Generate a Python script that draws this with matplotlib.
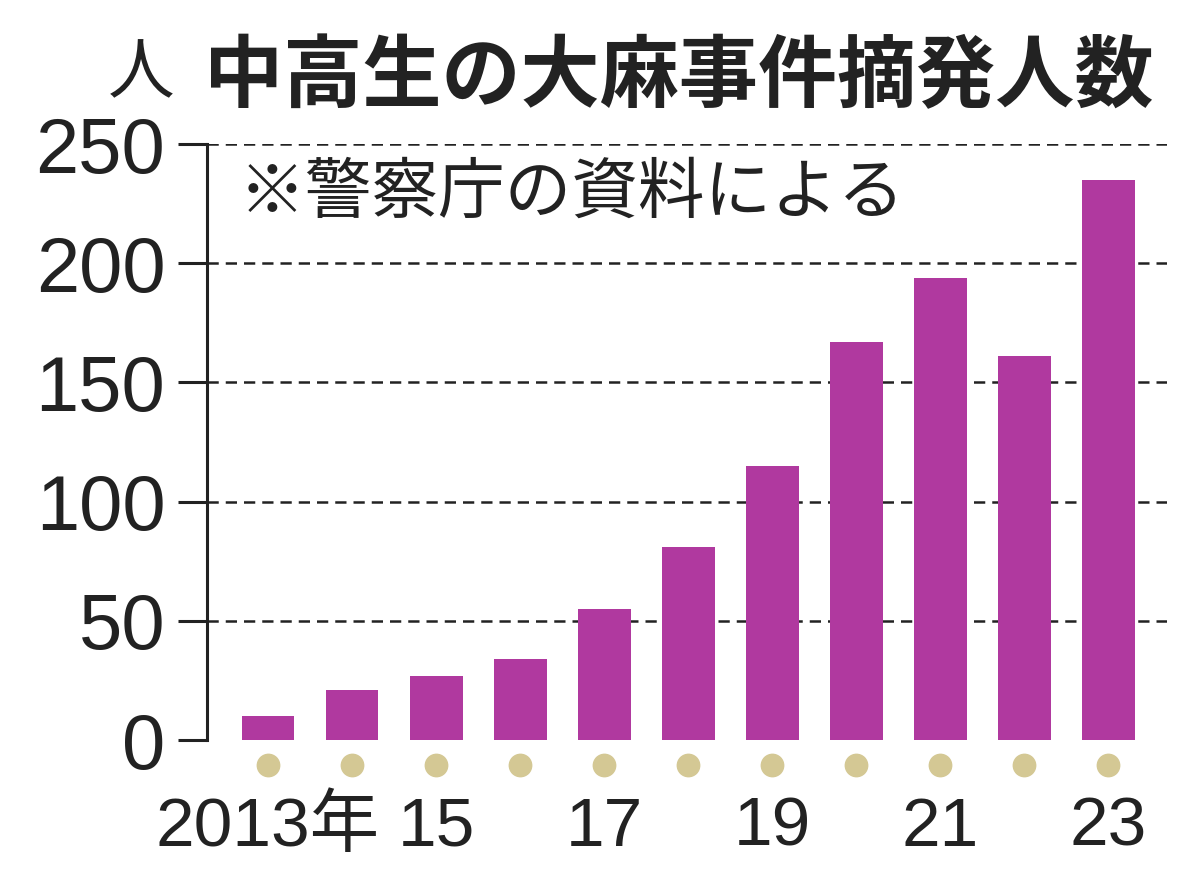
import matplotlib.pyplot as plt
import matplotlib.transforms as mtransforms
import numpy as np

plt.rcParams['font.family'] = ['Noto Sans CJK JP', 'DejaVu Sans']

years = [2013, 2014, 2015, 2016, 2017, 2018, 2019, 2020, 2021, 2022, 2023]
counts = [10, 21, 27, 34, 55, 81, 115, 167, 194, 161, 235]
xlabels = ['2013年', '', '15', '', '17', '', '19', '', '21', '', '23']
yticks = [0, 50, 100, 150, 200, 250]

fig = plt.figure(figsize=(12, 8.9), dpi=100)
ax = fig.add_axes([0.1725, 0.1685, 0.8, 0.6697])

x = np.arange(len(years))
ax.bar(x, counts, width=0.63, color='#b0399f', zorder=3)

ax.set_xlim(-0.726, 10.70)
ax.set_ylim(0, 250)

# dashed guide lines
for v in yticks[1:]:
    ax.axhline(v, color='#222222', lw=1.8, ls=(0, (4.5, 2.8)), zorder=1)

for s in ['top', 'right', 'bottom']:
    ax.spines[s].set_visible(False)
ax.spines['left'].set_linewidth(2.2)
ax.spines['left'].set_color('#222222')

ax.set_yticks(yticks)
ax.set_yticklabels([str(v) for v in yticks], family='Liberation Sans', fontsize=56, color='#222222')
ax.tick_params(axis='y', length=21, width=2.2, color='#222222', pad=9)

ax.set_xticks(x)
ax.set_xticklabels(xlabels, fontsize=50, color='#222222',
                   family=['Liberation Sans', 'Noto Sans CJK JP'], stretch='condensed')
ax.tick_params(axis='x', length=0, pad=40)

# year markers under each bar
trans = mtransforms.blended_transform_factory(ax.transData, ax.transAxes)
ax.scatter(x, [-0.042] * len(x), s=260, color='#d4c894', transform=trans, clip_on=False, zorder=4)

fig.text(0.118, 0.916, '人', fontsize=48, ha='center', va='center', color='#222222')
fig.text(0.170, 0.913, '中高生の大麻事件摘発人数', fontsize=57, fontweight='bold',
         ha='left', va='center', color='#222222')
ax.text(0.033, 0.916, '※警察庁の資料による', fontsize=48, transform=ax.transAxes,
        ha='left', va='center', color='#222222')

fig.savefig('out.png', dpi=100, facecolor='white')
